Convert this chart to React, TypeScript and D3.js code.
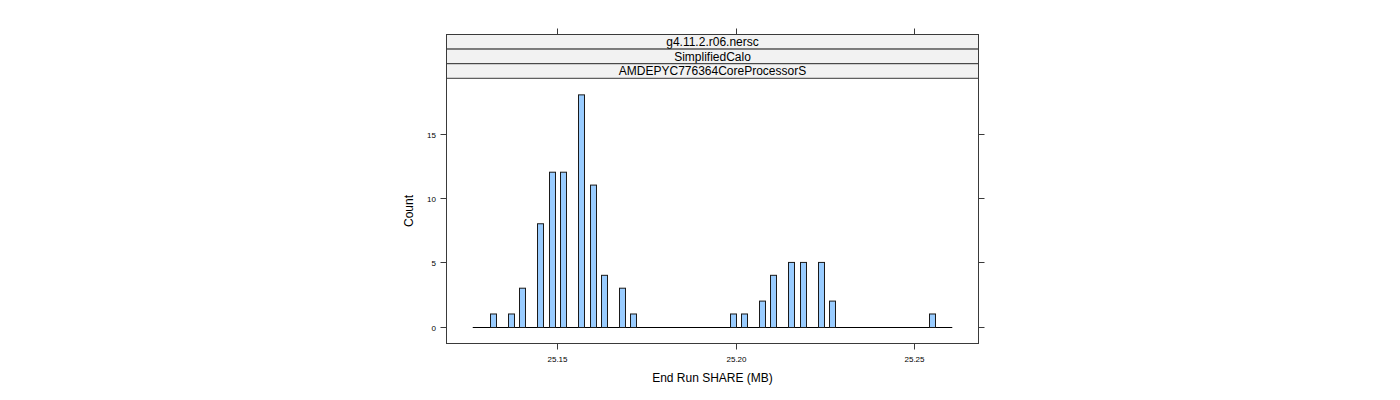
import React from "react";
import * as d3 from "d3";

const stripLabels = ["g4.11.2.r06.nersc", "SimplifiedCalo", "AMDEPYC776364CoreProcessorS"];
const shareValues = [
  25.1322, 25.1371, 25.1403, 25.1453, 25.1486, 25.1518, 25.1567, 25.16, 25.1632, 25.1682, 25.1714,
  25.1992, 25.2024, 25.2074, 25.2106, 25.2156, 25.2189, 25.2238, 25.227, 25.2549,
];
const counts = [1, 1, 3, 8, 12, 12, 18, 11, 4, 3, 1, 1, 1, 2, 4, 5, 5, 5, 2, 1];
const baselineRange = [25.1264, 25.2607];
const xTicks = [25.15, 25.2, 25.25];
const yTicks = [0, 5, 10, 15];
const xTitle = "End Run SHARE (MB)";
const yTitle = "Count";

export default function App() {
  const W = 1400, H = 400;
  const left = 446.5, right = 978.5, panelTop = 78.5, panelBottom = 343.5, stripTop = 34.5, stripH = 14.6;
  const x = d3.scaleLinear().domain([25.11905, 25.26804]).range([left, right]);
  const y = d3.scaleLinear().domain([-1.29, 19.27]).range([panelBottom, panelTop]);
  const font = "'Liberation Sans', Arial, Helvetica, sans-serif";
  const frame = "#3a3a3a";
  const barW = 6;
  return (
    <svg width={W} height={H} style={{ position: "absolute", left: 0, top: 0, display: "block", background: "#fff" }} fontFamily={font}>
      {stripLabels.map((s, i) => (
        <g key={s}>
          <rect x={left} y={stripTop + i * stripH} width={right - left} height={stripH} fill="#f2f2f2" stroke={frame} strokeWidth={1} />
          <text x={(left + right) / 2} y={stripTop + i * stripH + stripH / 2 + 4.2} textAnchor="middle" fontSize={12} fill="#000">{s}</text>
        </g>
      ))}
      <rect x={left} y={stripTop} width={right - left} height={panelBottom - stripTop} fill="none" stroke={frame} strokeWidth={1} />
      <line x1={x(baselineRange[0])} x2={x(baselineRange[1])} y1={Math.round(y(0)) + 0.5} y2={Math.round(y(0)) + 0.5} stroke="#000" strokeWidth={1} />
      {shareValues.map((v, i) => {
        const cx = x(v);
        const y0 = Math.round(y(0)) + 0.5;
        const y1 = y(counts[i]);
        return (
          <rect key={i} x={Math.round(cx - barW / 2) + 0.5} y={y1} width={barW} height={y0 - y1} fill="#99ccff" stroke="#1a1a1a" strokeWidth={1} />
        );
      })}
      {xTicks.map((t) => {
        const px = Math.round(x(t)) + 0.5;
        return (
          <g key={t}>
            <line x1={px} x2={px} y1={panelBottom} y2={panelBottom + 6} stroke={frame} />
            <line x1={px} x2={px} y1={stripTop} y2={stripTop - 6} stroke={frame} />
            <text x={px} y={362} textAnchor="middle" fontSize={8} fill="#000">{t.toFixed(2)}</text>
          </g>
        );
      })}
      {yTicks.map((t) => {
        const py = Math.round(y(t)) + 0.5;
        return (
          <g key={t}>
            <line x1={left} x2={left - 6} y1={py} y2={py} stroke={frame} />
            <line x1={right} x2={right + 6} y1={py} y2={py} stroke={frame} />
            <text x={436} y={py + 3} textAnchor="end" fontSize={8} fill="#000">{t}</text>
          </g>
        );
      })}
      <text x={(left + right) / 2} y={382} textAnchor="middle" fontSize={12} fill="#000">{xTitle}</text>
      <text transform={`translate(413, ${(panelTop + panelBottom) / 2}) rotate(-90)`} textAnchor="middle" fontSize={12} fill="#000">{yTitle}</text>
    </svg>
  );
}
